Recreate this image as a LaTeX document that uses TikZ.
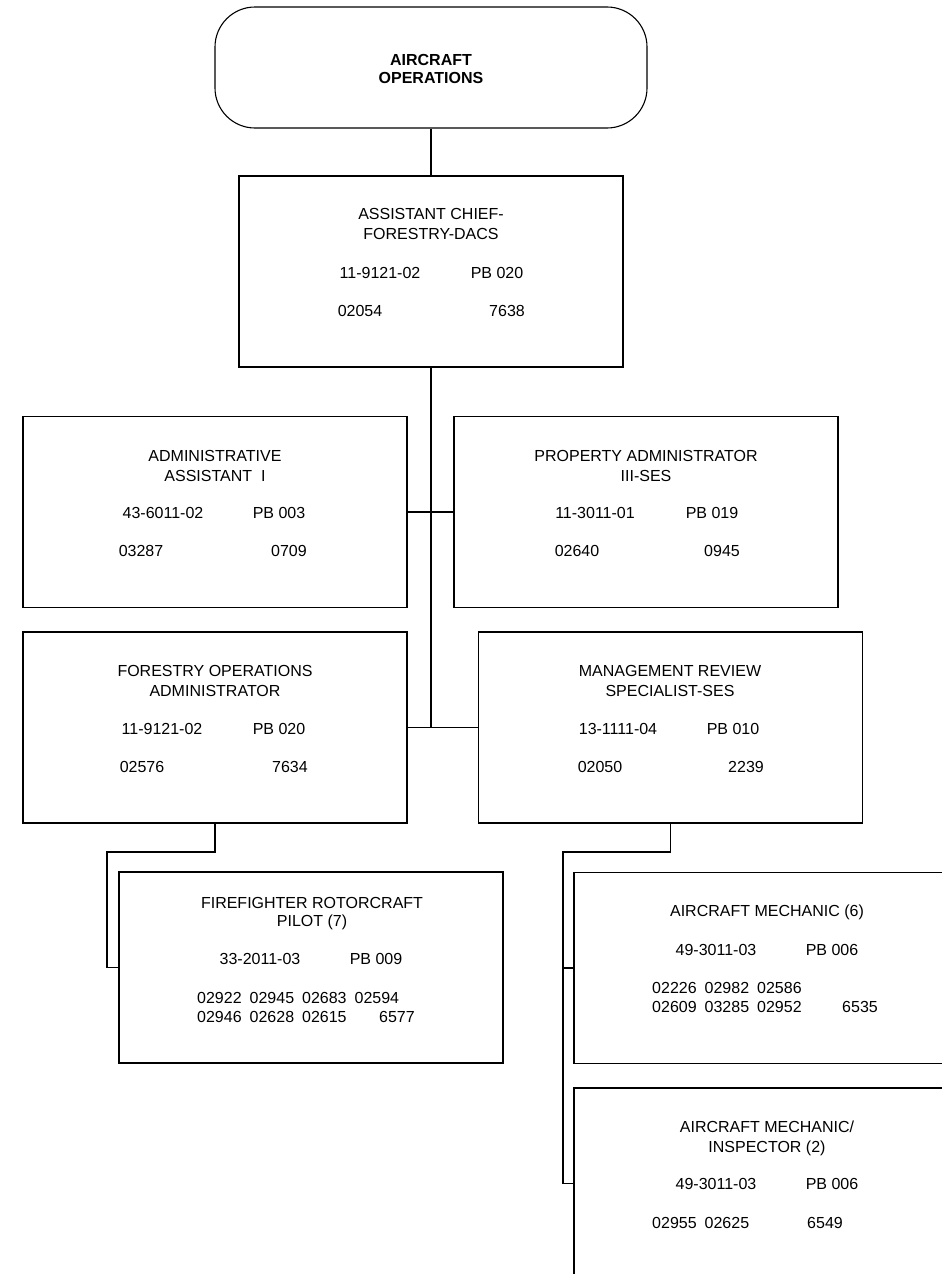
\documentclass[tikz,border=0pt]{standalone}
\usepackage{fontspec}
\setmainfont{Liberation Sans}
\newcommand{\codegap}{\hspace{8pt}}
\begin{document}
\begin{tikzpicture}[x=1pt,y=-1pt,
  posbox/.style={draw, line width=1.9pt, minimum width=384pt, minimum height=191pt, inner sep=0pt},
  topbox/.style={draw, line width=1.1pt, rounded corners=40pt, minimum width=432pt, minimum height=121pt, inner sep=0pt},
  link/.style={line width=1.9pt},
  txt/.style={inner sep=0pt, anchor=base, font=\fontsize{16}{19}\selectfont},
  txtw/.style={txt, anchor=base west},
  bold/.style={txt, font=\fontsize{16}{19}\selectfont\bfseries}]
\useasboundingbox (0,0) rectangle (942,1274);
\clip (0,0) rectangle (942,1274);

% boxes
\node[topbox] (ops) at (431,67.5) {};
\node[posbox] (asst) at (431,271.5) {};
\node[posbox] (admin) at (215,512) {};
\node[posbox] (prop) at (646,512) {};
\node[posbox] (fops) at (215,727.5) {};
\node[posbox] (mgmt) at (670.5,727.5) {};
\node[posbox] (pilot) at (311,967.5) {};
\node[posbox] (mech) at (766,968) {};
\node[posbox] (insp) at (766,1183.5) {};

% connectors
\coordinate (trunk) at (asst.south |- fops.east);
\draw[link] (ops.south) -- (asst.north);
\draw[link] (asst.south) -- (trunk);
\draw[link] (admin.east) -- (prop.west);
\draw[link] (fops.east) -- (mgmt.west);
\draw[link] (fops.south) -- ++(0,28) -| (107,967.5) -- (pilot.west);
\draw[link] (mgmt.south) -- ++(0,28) -| (563,968) -- (mech.west);
\draw[link] (563,968) |- (insp.west);

% texts
\node[bold] (ops1) at (431,65) {AIRCRAFT};
\node[bold] (ops2) at (431,83) {OPERATIONS};

\node[txt] (a1) at (431,219) {ASSISTANT CHIEF-};
\node[txt] (a2) at (431,239) {FORESTRY-DACS};
\node[txt] (a3) at (380,278) {11-9121-02};
\node[txt] (a4) at (497,278) {PB 020};
\node[txt] (a5) at (360,316) {02054};
\node[txt] (a6) at (507,316) {7638};

\node[txt] (b1) at (215,461) {ADMINISTRATIVE};
\node[txt] (b2) at (215,481) {ASSISTANT\ \ I};
\node[txt] (b3) at (163,518) {43-6011-02};
\node[txt] (b4) at (279,518) {PB 003};
\node[txt] (b5) at (141,556) {03287};
\node[txt] (b6) at (289,556) {0709};

\node[txt] (c1) at (646,461) {PROPERTY ADMINISTRATOR};
\node[txt] (c2) at (646,481) {III-SES};
\node[txt] (c3) at (595,518) {11-3011-01};
\node[txt] (c4) at (712,518) {PB 019};
\node[txt] (c5) at (577,556) {02640};
\node[txt] (c6) at (722,556) {0945};

\node[txt] (d1) at (215,676) {FORESTRY OPERATIONS};
\node[txt] (d2) at (215,696) {ADMINISTRATOR};
\node[txt] (d3) at (162,734) {11-9121-02};
\node[txt] (d4) at (279,734) {PB 020};
\node[txt] (d5) at (142,772) {02576};
\node[txt] (d6) at (290,772) {7634};

\node[txt] (e1) at (670,676) {MANAGEMENT REVIEW};
\node[txt] (e2) at (670,696) {SPECIALIST-SES};
\node[txt] (e3) at (618,734) {13-1111-04};
\node[txt] (e4) at (733,734) {PB 010};
\node[txt] (e5) at (600,772) {02050};
\node[txt] (e6) at (746,772) {2239};

\node[txt] (f1) at (312,908) {FIREFIGHTER ROTORCRAFT};
\node[txt] (f2) at (312,926) {PILOT (7)};
\node[txt] (f3) at (260,964) {33-2011-03};
\node[txt] (f4) at (376,964) {PB 009};
\node[txtw] (f5) at (197,1003) {02922\codegap 02945\codegap 02683\codegap 02594};
\node[txtw] (f6) at (197,1022) {02946\codegap 02628\codegap 02615};
\node[txt] (f7) at (397,1022) {6577};

\node[txt] (g1) at (767,916) {AIRCRAFT MECHANIC (6)};
\node[txt] (g3) at (716,955) {49-3011-03};
\node[txt] (g4) at (832,955) {PB 006};
\node[txtw] (g5) at (652,993) {02226\codegap 02982\codegap 02586};
\node[txtw] (g6) at (652,1012) {02609\codegap 03285\codegap 02952};
\node[txt] (g7) at (860,1012) {6535};

\node[txt] (h1) at (767,1132) {AIRCRAFT MECHANIC/};
\node[txt] (h2) at (767,1152) {INSPECTOR (2)};
\node[txt] (h3) at (716,1189) {49-3011-03};
\node[txt] (h4) at (832,1189) {PB 006};
\node[txtw] (h5) at (652,1228) {02955\codegap 02625};
\node[txt] (h6) at (825,1228) {6549};
\end{tikzpicture}
\end{document}
